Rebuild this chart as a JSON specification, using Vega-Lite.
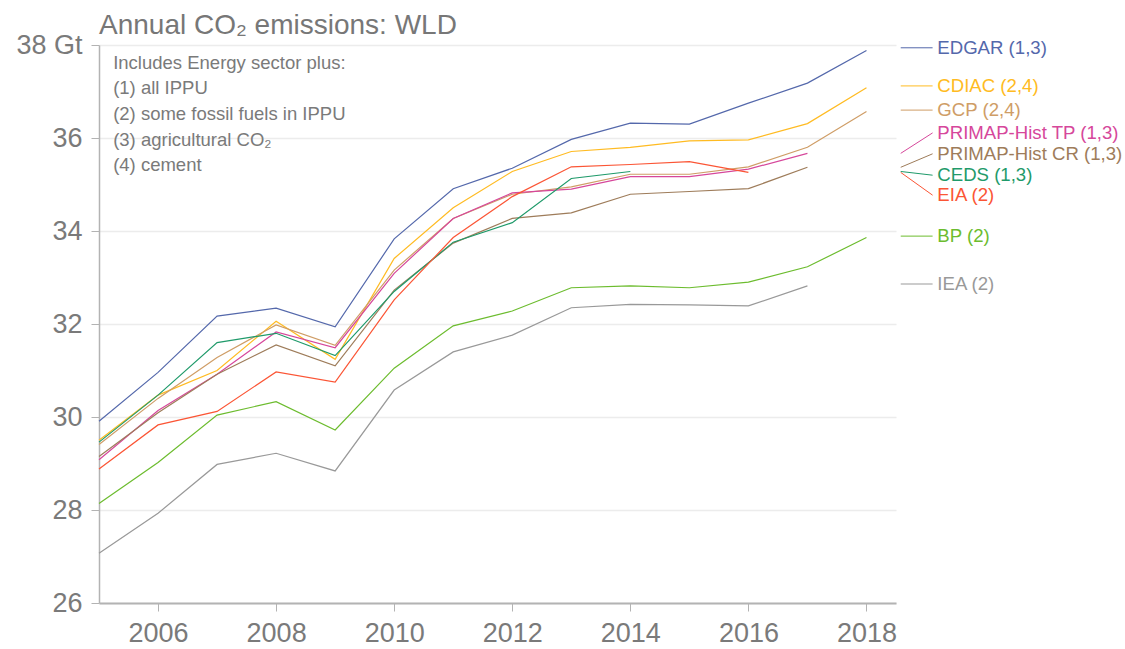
{
  "$schema": "https://vega.github.io/schema/vega-lite/v6.json",
  "width": 797,
  "height": 558,
  "autosize": {"type": "none"},
  "padding": {"left": 99, "top": 45, "right": 229, "bottom": 46},
  "background": "white",
  "config": {"view": {"stroke": null}, "font": "Liberation Sans"},
  "title": {"text": "Annual CO₂ emissions: WLD", "anchor": "start", "frame": "group", "fontSize": 28, "fontWeight": "normal", "color": "#777777", "offset": -9, "font": "Liberation Sans"},
  "datasets": {
    "em": [
      {"source": "EDGAR", "year": 2005, "value": 29.91}, {"source": "EDGAR", "year": 2006, "value": 30.96}, {"source": "EDGAR", "year": 2007, "value": 32.17}, {"source": "EDGAR", "year": 2008, "value": 32.34}, {"source": "EDGAR", "year": 2009, "value": 31.94}, {"source": "EDGAR", "year": 2010, "value": 33.83}, {"source": "EDGAR", "year": 2011, "value": 34.91}, {"source": "EDGAR", "year": 2012, "value": 35.35}, {"source": "EDGAR", "year": 2013, "value": 35.97}, {"source": "EDGAR", "year": 2014, "value": 36.32}, {"source": "EDGAR", "year": 2015, "value": 36.30}, {"source": "EDGAR", "year": 2016, "value": 36.75}, {"source": "EDGAR", "year": 2017, "value": 37.18}, {"source": "EDGAR", "year": 2018, "value": 37.88},
      {"source": "CDIAC", "year": 2005, "value": 29.50}, {"source": "CDIAC", "year": 2006, "value": 30.47}, {"source": "CDIAC", "year": 2007, "value": 31.00}, {"source": "CDIAC", "year": 2008, "value": 32.06}, {"source": "CDIAC", "year": 2009, "value": 31.24}, {"source": "CDIAC", "year": 2010, "value": 33.41}, {"source": "CDIAC", "year": 2011, "value": 34.50}, {"source": "CDIAC", "year": 2012, "value": 35.28}, {"source": "CDIAC", "year": 2013, "value": 35.71}, {"source": "CDIAC", "year": 2014, "value": 35.80}, {"source": "CDIAC", "year": 2015, "value": 35.94}, {"source": "CDIAC", "year": 2016, "value": 35.96}, {"source": "CDIAC", "year": 2017, "value": 36.31}, {"source": "CDIAC", "year": 2018, "value": 37.08},
      {"source": "GCP", "year": 2005, "value": 29.41}, {"source": "GCP", "year": 2006, "value": 30.40}, {"source": "GCP", "year": 2007, "value": 31.28}, {"source": "GCP", "year": 2008, "value": 31.98}, {"source": "GCP", "year": 2009, "value": 31.54}, {"source": "GCP", "year": 2010, "value": 33.16}, {"source": "GCP", "year": 2011, "value": 34.27}, {"source": "GCP", "year": 2012, "value": 34.79}, {"source": "GCP", "year": 2013, "value": 34.95}, {"source": "GCP", "year": 2014, "value": 35.22}, {"source": "GCP", "year": 2015, "value": 35.22}, {"source": "GCP", "year": 2016, "value": 35.38}, {"source": "GCP", "year": 2017, "value": 35.80}, {"source": "GCP", "year": 2018, "value": 36.57},
      {"source": "PRIMAP-Hist TP", "year": 2005, "value": 29.08}, {"source": "PRIMAP-Hist TP", "year": 2006, "value": 30.14}, {"source": "PRIMAP-Hist TP", "year": 2007, "value": 30.92}, {"source": "PRIMAP-Hist TP", "year": 2008, "value": 31.83}, {"source": "PRIMAP-Hist TP", "year": 2009, "value": 31.49}, {"source": "PRIMAP-Hist TP", "year": 2010, "value": 33.09}, {"source": "PRIMAP-Hist TP", "year": 2011, "value": 34.27}, {"source": "PRIMAP-Hist TP", "year": 2012, "value": 34.82}, {"source": "PRIMAP-Hist TP", "year": 2013, "value": 34.90}, {"source": "PRIMAP-Hist TP", "year": 2014, "value": 35.17}, {"source": "PRIMAP-Hist TP", "year": 2015, "value": 35.17}, {"source": "PRIMAP-Hist TP", "year": 2016, "value": 35.33}, {"source": "PRIMAP-Hist TP", "year": 2017, "value": 35.67},
      {"source": "PRIMAP-Hist CR", "year": 2005, "value": 29.15}, {"source": "PRIMAP-Hist CR", "year": 2006, "value": 30.09}, {"source": "PRIMAP-Hist CR", "year": 2007, "value": 30.92}, {"source": "PRIMAP-Hist CR", "year": 2008, "value": 31.55}, {"source": "PRIMAP-Hist CR", "year": 2009, "value": 31.10}, {"source": "PRIMAP-Hist CR", "year": 2010, "value": 32.73}, {"source": "PRIMAP-Hist CR", "year": 2011, "value": 33.74}, {"source": "PRIMAP-Hist CR", "year": 2012, "value": 34.27}, {"source": "PRIMAP-Hist CR", "year": 2013, "value": 34.39}, {"source": "PRIMAP-Hist CR", "year": 2014, "value": 34.79}, {"source": "PRIMAP-Hist CR", "year": 2015, "value": 34.85}, {"source": "PRIMAP-Hist CR", "year": 2016, "value": 34.91}, {"source": "PRIMAP-Hist CR", "year": 2017, "value": 35.37},
      {"source": "CEDS", "year": 2005, "value": 29.46}, {"source": "CEDS", "year": 2006, "value": 30.47}, {"source": "CEDS", "year": 2007, "value": 31.60}, {"source": "CEDS", "year": 2008, "value": 31.80}, {"source": "CEDS", "year": 2009, "value": 31.32}, {"source": "CEDS", "year": 2010, "value": 32.70}, {"source": "CEDS", "year": 2011, "value": 33.76}, {"source": "CEDS", "year": 2012, "value": 34.18}, {"source": "CEDS", "year": 2013, "value": 35.13}, {"source": "CEDS", "year": 2014, "value": 35.28},
      {"source": "EIA", "year": 2005, "value": 28.88}, {"source": "EIA", "year": 2006, "value": 29.83}, {"source": "EIA", "year": 2007, "value": 30.12}, {"source": "EIA", "year": 2008, "value": 30.97}, {"source": "EIA", "year": 2009, "value": 30.75}, {"source": "EIA", "year": 2010, "value": 32.52}, {"source": "EIA", "year": 2011, "value": 33.86}, {"source": "EIA", "year": 2012, "value": 34.74}, {"source": "EIA", "year": 2013, "value": 35.38}, {"source": "EIA", "year": 2014, "value": 35.43}, {"source": "EIA", "year": 2015, "value": 35.49}, {"source": "EIA", "year": 2016, "value": 35.26},
      {"source": "BP", "year": 2005, "value": 28.14}, {"source": "BP", "year": 2006, "value": 29.02}, {"source": "BP", "year": 2007, "value": 30.04}, {"source": "BP", "year": 2008, "value": 30.33}, {"source": "BP", "year": 2009, "value": 29.72}, {"source": "BP", "year": 2010, "value": 31.05}, {"source": "BP", "year": 2011, "value": 31.96}, {"source": "BP", "year": 2012, "value": 32.28}, {"source": "BP", "year": 2013, "value": 32.78}, {"source": "BP", "year": 2014, "value": 32.82}, {"source": "BP", "year": 2015, "value": 32.78}, {"source": "BP", "year": 2016, "value": 32.90}, {"source": "BP", "year": 2017, "value": 33.23}, {"source": "BP", "year": 2018, "value": 33.86},
      {"source": "IEA", "year": 2005, "value": 27.07}, {"source": "IEA", "year": 2006, "value": 27.93}, {"source": "IEA", "year": 2007, "value": 28.98}, {"source": "IEA", "year": 2008, "value": 29.22}, {"source": "IEA", "year": 2009, "value": 28.84}, {"source": "IEA", "year": 2010, "value": 30.58}, {"source": "IEA", "year": 2011, "value": 31.40}, {"source": "IEA", "year": 2012, "value": 31.76}, {"source": "IEA", "year": 2013, "value": 32.35}, {"source": "IEA", "year": 2014, "value": 32.42}, {"source": "IEA", "year": 2015, "value": 32.41}, {"source": "IEA", "year": 2016, "value": 32.39}, {"source": "IEA", "year": 2017, "value": 32.82}
    ],
    "labels": [
      {"source": "EDGAR", "label": "EDGAR (1,3)", "last": 37.94, "at": 37.94},
      {"source": "CDIAC", "label": "CDIAC (2,4)", "last": 37.12, "at": 37.12},
      {"source": "GCP", "label": "GCP (2,4)", "last": 36.60, "at": 36.60},
      {"source": "PRIMAP-Hist TP", "label": "PRIMAP-Hist TP (1,3)", "last": 35.67, "at": 36.11},
      {"source": "PRIMAP-Hist CR", "label": "PRIMAP-Hist CR (1,3)", "last": 35.37, "at": 35.66},
      {"source": "CEDS", "label": "CEDS (1,3)", "last": 35.28, "at": 35.20},
      {"source": "EIA", "label": "EIA (2)", "last": 35.26, "at": 34.77},
      {"source": "BP", "label": "BP (2)", "last": 33.89, "at": 33.89},
      {"source": "IEA", "label": "IEA (2)", "last": 32.86, "at": 32.86}
    ]
  },
  "layer": [
    {
      "data": {"name": "em"},
      "mark": {"type": "line", "strokeWidth": 1.2},
      "encoding": {
        "x": {"field": "year", "type": "quantitative", "scale": {"domain": [2005, 2018.5], "nice": false, "zero": false},
          "axis": {"title": null, "values": [2006, 2008, 2010, 2012, 2014, 2016, 2018], "format": "d", "grid": false, "domainColor": "#b3b3b3", "domainWidth": 2, "tickColor": "#b3b3b3", "tickSize": 8, "tickWidth": 1, "labelFontSize": 27, "labelColor": "#7a7a7a", "labelPadding": 9, "labelFont": "Liberation Sans"}},
        "y": {"field": "value", "type": "quantitative", "scale": {"domain": [26, 38], "nice": false, "zero": false},
          "axis": {"title": null, "values": [26, 28, 30, 32, 34, 36, 38], "labelExpr": "datum.value == 38 ? '38 Gt' : datum.label", "grid": true, "gridColor": "#ececec", "gridWidth": 1.5, "domainColor": "#b3b3b3", "domainWidth": 1.5, "tickColor": "#b3b3b3", "tickSize": 8, "labelFontSize": 27, "labelColor": "#7a7a7a", "labelPadding": 9, "labelFont": "Liberation Sans"}},
        "color": {"field": "source", "type": "nominal", "legend": null,
          "scale": {"domain": ["EDGAR", "CDIAC", "GCP", "PRIMAP-Hist TP", "PRIMAP-Hist CR", "CEDS", "EIA", "BP", "IEA"],
            "range": ["#5468ab", "#ffbb22", "#cf9d66", "#d6479b", "#9e7c5a", "#1f9a6a", "#fb5535", "#6cbc2e", "#999999"]}}
      }
    },
    {
      "data": {"name": "labels"},
      "mark": {"type": "rule", "strokeWidth": 1},
      "encoding": {
        "x": {"datum": 2018.58, "type": "quantitative"},
        "x2": {"datum": 2019.12},
        "y": {"field": "last", "type": "quantitative"},
        "y2": {"field": "at"},
        "color": {"field": "source", "type": "nominal"}
      }
    },
    {
      "data": {"name": "labels"},
      "mark": {"type": "text", "align": "left", "baseline": "middle", "fontSize": 18.6, "font": "Liberation Sans"},
      "encoding": {
        "x": {"datum": 2019.2, "type": "quantitative"},
        "y": {"field": "at", "type": "quantitative"},
        "text": {"field": "label"},
        "color": {"field": "source", "type": "nominal"}
      }
    },
    {
      "data": {"values": [{"note": "Includes Energy sector plus:"}]},
      "mark": {"type": "text", "align": "left", "baseline": "top", "fontSize": 18.5, "lineHeight": 25.6, "color": "#7a7a7a", "font": "Liberation Sans"},
      "encoding": {
        "x": {"datum": 2005.24, "type": "quantitative"},
        "y": {"datum": 37.81, "type": "quantitative"},
        "text": {"value": ["Includes Energy sector plus:", "(1) all IPPU", "(2) some fossil fuels in IPPU", "(3) agricultural CO₂", "(4) cement"]}
      }
    }
  ]
}
